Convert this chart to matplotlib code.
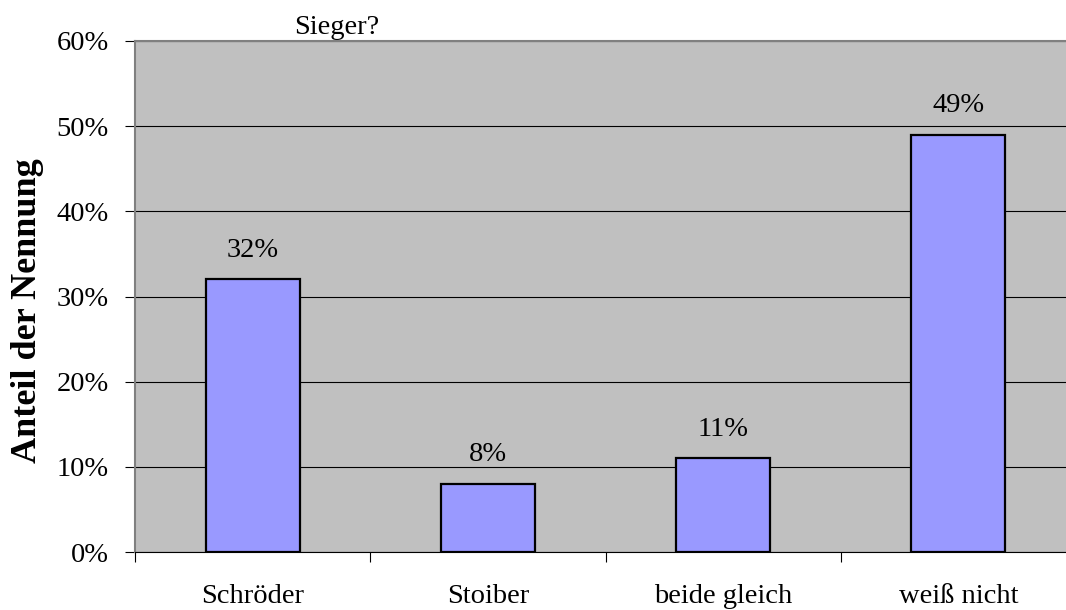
import numpy as np
from matplotlib import pyplot as plt
from matplotlib.ticker import PercentFormatter

plt.rcParams['font.family'] = ['Liberation Serif', 'DejaVu Serif']

# data
kategorien = ['Schröder', 'Stoiber', 'beide gleich', 'weiß nicht']
anteile = [32, 8, 11, 49]
y_ticks = [0, 10, 20, 30, 40, 50, 60]

fs = 20.5

fig = plt.figure(figsize=(10.66, 6.1), dpi=100)
# the plot area runs a bit past the right edge, like in the cropped original
ax = fig.add_axes([135 / 1066, 1 - 552 / 610, 941 / 1066, 511 / 610])
ax.set_facecolor('#C0C0C0')

x = np.arange(len(kategorien))
bars = ax.bar(x, anteile, width=0.4, color='#9999FF', edgecolor='black',
              linewidth=1.6, zorder=3)

for b, v in zip(bars, anteile):
    ax.annotate('%d%%' % v, (b.get_x() + b.get_width() / 2, v),
                xytext=(0, 12), textcoords='offset points',
                ha='center', va='bottom', fontsize=fs)

ax.set_xlim(-0.5, len(kategorien) - 0.5)
ax.set_ylim(0, 60)
ax.set_yticks(y_ticks)
ax.yaxis.set_major_formatter(PercentFormatter(decimals=0))
ax.yaxis.grid(True, color='black', linewidth=0.8, zorder=1)
ax.set_axisbelow(True)

# ticks between categories, labels at the centres
ax.set_xticks(np.arange(len(kategorien) + 1) - 0.5)
ax.set_xticklabels([])
ax.set_xticks(x, minor=True)
ax.set_xticklabels(kategorien, minor=True)
ax.tick_params(axis='x', which='minor', length=0, pad=23, labelsize=fs)
ax.tick_params(axis='x', which='major', length=7, width=0.8, direction='out')
ax.tick_params(axis='y', length=7, width=0.8, direction='out', pad=12,
               labelsize=fs)

for s in ['top', 'right']:
    ax.spines[s].set_color('#808080')
    ax.spines[s].set_linewidth(1.5)
ax.spines['left'].set_color('#808080')
ax.spines['left'].set_linewidth(1.5)
ax.spines['bottom'].set_color('black')
ax.spines['bottom'].set_linewidth(0.8)

fig.text(28 / 1066, 1 - 311 / 610, 'Anteil der Nennung', rotation=90,
         ha='center', va='center', fontsize=26, fontweight='bold')
fig.text(337 / 1066, 1 - 27 / 610, 'Sieger?', ha='center', va='center',
         fontsize=fs)

fig.savefig('out.png', dpi=100)
